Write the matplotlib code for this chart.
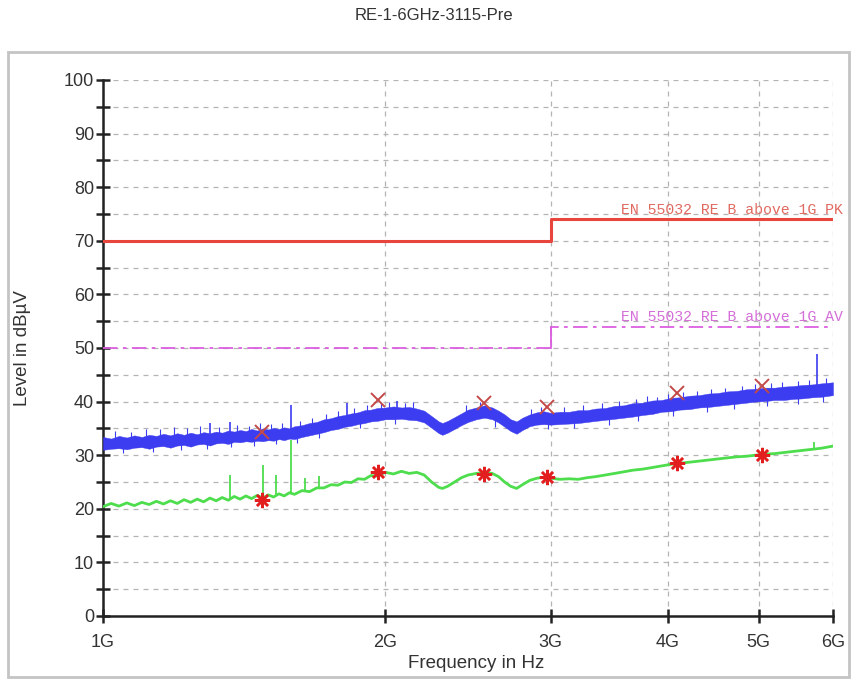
import matplotlib
matplotlib.use("Agg")
import matplotlib.pyplot as plt
import numpy as np
from matplotlib.ticker import FixedLocator, NullFormatter, MultipleLocator
from matplotlib.patches import Rectangle
import matplotlib.transforms as mtransforms

# ---------------- data (GHz / dBuV) ----------------
freq_peak = [1.00, 1.02, 1.04, 1.06, 1.08, 1.10, 1.12, 1.14, 1.16, 1.18, 1.20, 1.22, 1.24, 1.26,
             1.28, 1.30, 1.32, 1.34, 1.36, 1.38, 1.40, 1.42, 1.44, 1.46, 1.48, 1.50, 1.52, 1.54,
             1.56, 1.58, 1.60, 1.63, 1.66, 1.69, 1.72, 1.75, 1.78, 1.81, 1.84, 1.87, 1.90, 1.93,
             1.96, 2.00, 2.04, 2.08, 2.12, 2.16, 2.20, 2.24, 2.28, 2.30, 2.33, 2.37, 2.41, 2.45,
             2.50, 2.55, 2.60, 2.64, 2.68, 2.72, 2.76, 2.80, 2.85, 2.90, 2.95, 3.00, 3.07, 3.14,
             3.21, 3.28, 3.35, 3.43, 3.51, 3.59, 3.67, 3.76, 3.85, 3.94, 4.03, 4.12, 4.22, 4.32,
             4.42, 4.52, 4.63, 4.74, 4.85, 4.96, 5.08, 5.20, 5.32, 5.44, 5.57, 5.70, 5.83, 6.00]
peak_hi = [33.4, 33.1, 33.6, 33.3, 33.7, 33.4, 33.8, 33.6, 34.0, 33.7, 34.1, 33.8, 34.2, 33.9,
           34.3, 34.1, 34.4, 34.2, 34.6, 34.4, 34.7, 34.5, 34.9, 34.6, 35.0, 34.8, 35.1, 34.9,
           35.2, 35.0, 35.4, 35.6, 36.0, 36.2, 36.7, 36.9, 37.3, 37.5, 37.8, 38.0, 38.4, 38.5,
           38.8, 38.9, 39.1, 38.9, 39.0, 38.7, 38.3, 37.3, 36.3, 36.0, 36.4, 37.1, 37.8, 38.5,
           38.9, 39.3, 38.9, 38.3, 37.6, 36.7, 36.3, 37.0, 37.6, 38.0, 38.2, 37.9, 38.1, 38.1,
           38.4, 38.4, 38.7, 38.8, 39.2, 39.3, 39.7, 39.8, 40.2, 40.3, 40.7, 40.8, 41.1, 41.2,
           41.5, 41.6, 41.9, 42.0, 42.3, 42.4, 42.6, 42.6, 42.8, 42.9, 43.1, 43.2, 43.4, 43.6]
peak_lo = [31.0, 31.2, 31.3, 31.1, 31.4, 31.5, 31.2, 31.6, 31.7, 31.4, 31.8, 31.9, 31.6, 32.0,
           32.1, 31.8, 32.2, 32.3, 32.1, 32.5, 32.4, 32.6, 32.5, 32.7, 32.6, 32.8, 32.7, 33.0,
           32.8, 33.1, 33.0, 33.4, 33.7, 34.0, 34.3, 34.7, 34.9, 35.3, 35.5, 35.8, 36.0, 36.3,
           36.4, 36.7, 36.7, 36.8, 36.6, 36.5, 36.1, 35.1, 34.1, 33.8, 34.2, 34.9, 35.6, 36.2,
           36.7, 37.0, 36.7, 36.1, 35.3, 34.5, 34.0, 34.7, 35.4, 35.7, 35.8, 35.7, 35.8, 35.9,
           36.0, 36.2, 36.4, 36.6, 36.8, 37.0, 37.2, 37.5, 37.7, 38.1, 38.2, 38.5, 38.6, 38.9,
           39.0, 39.2, 39.4, 39.6, 39.8, 40.0, 40.1, 40.3, 40.3, 40.5, 40.6, 40.8, 40.9, 41.2]
peak_up_f = [1.03, 1.07, 1.11, 1.15, 1.19, 1.23, 1.27, 1.33, 1.39, 1.43, 1.47, 1.51, 1.55, 1.62,
             1.67, 1.73, 1.78, 1.85, 1.91, 1.98, 2.02, 2.10, 2.14, 2.44, 2.52, 2.86, 2.93, 3.10,
             3.25, 3.40, 3.55, 3.70, 3.80, 3.90, 4.00, 4.15, 4.30, 4.45, 4.60, 4.80, 4.95, 5.15,
             5.30, 5.50, 5.65, 5.90]
peak_up_v = [34.6, 34.4, 34.9, 34.8, 35.2, 35.0, 35.4, 35.3, 35.6, 35.5, 36.0, 35.8, 36.0, 36.4,
             37.0, 37.6, 38.3, 38.8, 39.3, 39.8, 39.9, 39.7, 40.0, 39.4, 39.9, 38.6, 39.0, 38.9,
             39.3, 39.7, 40.1, 40.5, 41.0, 40.9, 41.4, 41.7, 42.0, 42.3, 42.6, 43.0, 43.2, 43.4,
             43.6, 43.9, 44.0, 44.4]
peak_down_f = [1.05, 1.13, 1.21, 1.29, 1.37, 1.45, 1.53, 1.61, 1.70, 1.88, 2.05, 2.62, 2.98,
               3.18, 3.46, 3.72, 4.05, 4.40, 4.70, 5.10, 5.50, 5.85]
peak_down_v = [30.4, 30.6, 31.0, 31.2, 31.5, 31.8, 32.0, 32.2, 33.2, 35.0, 35.8, 35.2, 34.8,
               35.1, 35.7, 36.3, 37.3, 38.0, 38.6, 39.2, 39.6, 40.0]
peak_spike_f = [1.30, 1.365, 1.586, 1.82, 2.06, 5.77]
peak_spike_v = [36.0, 36.2, 39.4, 39.7, 40.2, 48.8]

freq_avg = [1.00, 1.02, 1.04, 1.06, 1.08, 1.10, 1.12, 1.14, 1.16, 1.18, 1.20, 1.22, 1.24, 1.26,
            1.28, 1.30, 1.32, 1.34, 1.36, 1.38, 1.40, 1.42, 1.44, 1.46, 1.48, 1.50, 1.52, 1.54,
            1.56, 1.58, 1.60, 1.63, 1.66, 1.69, 1.72, 1.75, 1.78, 1.81, 1.84, 1.87, 1.90, 1.93,
            1.96, 2.00, 2.04, 2.08, 2.12, 2.16, 2.20, 2.24, 2.28, 2.30, 2.33, 2.37, 2.41, 2.45,
            2.50, 2.55, 2.60, 2.64, 2.68, 2.72, 2.76, 2.80, 2.85, 2.90, 2.95, 3.00, 3.07, 3.14,
            3.21, 3.28, 3.35, 3.43, 3.51, 3.59, 3.67, 3.76, 3.85, 3.94, 4.03, 4.12, 4.22, 4.32,
            4.42, 4.52, 4.63, 4.74, 4.85, 4.96, 5.08, 5.20, 5.32, 5.44, 5.57, 5.70, 5.83, 6.00]
avg_level = [20.4, 21.0, 20.5, 21.1, 20.6, 21.2, 20.8, 21.4, 20.9, 21.5, 21.0, 21.7, 21.2, 21.8,
             21.3, 22.0, 21.5, 22.1, 21.6, 22.3, 21.8, 22.4, 21.9, 22.5, 22.0, 22.6, 22.2, 22.8,
             22.4, 23.0, 22.7, 23.4, 23.2, 23.9, 23.9, 24.5, 24.4, 25.0, 24.9, 25.6, 25.5, 26.2,
             26.1, 26.8, 26.5, 27.0, 26.6, 26.8, 26.3, 25.0, 24.0, 23.8, 24.2, 25.0, 25.8, 26.3,
             26.6, 26.8, 26.6, 26.0, 25.0, 24.2, 23.8, 24.5, 25.3, 25.7, 25.9, 25.7, 25.5, 25.6,
             25.5, 25.8, 26.0, 26.3, 26.6, 26.9, 27.2, 27.4, 27.7, 28.0, 28.3, 28.5, 28.7, 28.9,
             29.1, 29.3, 29.5, 29.7, 29.8, 30.0, 30.2, 30.3, 30.5, 30.7, 30.9, 31.1, 31.3, 31.7]
avg_spike_f = [1.365, 1.48, 1.53, 1.585, 1.64, 1.70, 5.72]
avg_spike_v = [26.3, 28.2, 26.3, 32.8, 25.7, 26.1, 32.4]

marker_f = [1.477, 1.964, 2.55, 2.97, 4.09, 5.04]
marker_pk = [34.3, 40.3, 39.7, 39.0, 41.6, 42.9]
marker_av = [21.6, 26.9, 26.5, 25.9, 28.5, 30.0]

pk_limit_f = [1.0, 3.0, 3.0, 6.0]
pk_limit = [70, 70, 74, 74]
av_limit_f = [1.0, 3.0, 3.0, 6.0]
av_limit = [50, 50, 54, 54]
pk_label = "EN 55032 RE B above 1G PK"
av_label = "EN 55032 RE B above 1G AV"

xtick_vals = [1, 2, 3, 4, 5, 6]
xtick_labels = ["1G", "2G", "3G", "4G", "5G", "6G"]

# ---------------- figure ----------------
plt.rcParams['font.family'] = ['Liberation Sans', 'DejaVu Sans']
W, H = 853, 679
fig = plt.figure(figsize=(W / 100, H / 100), dpi=100)
fig.patch.set_facecolor('white')

fig.patches.append(Rectangle((8 / W, 1 - 677 / H), (849 - 8) / W, (677 - 52) / H,
                             transform=fig.transFigure, fill=False,
                             edgecolor='#c4c4c4', lw=2, zorder=0))

ax = fig.add_axes([103 / W, 1 - 616 / H, (833 - 103) / W, (616 - 80) / H])
ax.set_xscale('log')
ax.set_xlim(1, 6)
ax.set_ylim(0, 100)

ax.spines['top'].set_visible(False)
ax.spines['right'].set_visible(False)
for s in ('left', 'bottom'):
    ax.spines[s].set_linewidth(1.8)
    ax.spines[s].set_color('#222222')

ax.xaxis.set_major_locator(FixedLocator(xtick_vals))
ax.set_xticklabels(xtick_labels)
ax.xaxis.set_minor_locator(FixedLocator([]))
ax.xaxis.set_minor_formatter(NullFormatter())
ax.yaxis.set_major_locator(MultipleLocator(10))
ax.yaxis.set_minor_locator(MultipleLocator(5))

ax.tick_params(axis='both', which='both', direction='inout', length=10, width=1.8,
               color='#222222', labelsize=13, labelcolor='#333333')
ax.tick_params(axis='x', pad=8)
ax.tick_params(axis='y', pad=1.5)

ax.grid(True, which='major', axis='x', color='#b4b4b4', ls=(0, (4, 4)), lw=0.9)
ax.grid(True, which='both', axis='y', color='#b4b4b4', ls=(0, (4, 4)), lw=0.9)
ax.set_axisbelow(True)

# limit lines
ax.plot(pk_limit_f, pk_limit, color='#e8463c', lw=2.2, zorder=3)
ax.plot(av_limit_f, av_limit, color='#dc5ee0', lw=1.3, ls=(0, (8, 3, 2, 3)), zorder=3)
ax.plot([av_limit_f[1], av_limit_f[2]], [av_limit[1], av_limit[2]], color='#dc5ee0', lw=1.3, zorder=3)

tr = mtransforms.blended_transform_factory(ax.transAxes, ax.transData)
ax.text(1.014, 74.4, pk_label, transform=tr, ha='right', va='bottom',
        family='Liberation Mono', fontsize=10.7, color='#e06a60', clip_on=False)
ax.text(1.014, 54.4, av_label, transform=tr, ha='right', va='bottom',
        family='Liberation Mono', fontsize=10.7, color='#d46ed8', clip_on=False)

# peak trace (blue)
blue = '#3c3cf0'
ax.fill_between(freq_peak, peak_lo, peak_hi, color=blue, lw=0.3, edgecolor=blue, zorder=4)
up_base = np.interp(peak_up_f, freq_peak, peak_hi) - 0.3
ax.vlines(peak_up_f, up_base, peak_up_v, color=blue, lw=0.8, zorder=4)
down_base = np.interp(peak_down_f, freq_peak, peak_lo) + 0.3
ax.vlines(peak_down_f, peak_down_v, down_base, color=blue, lw=0.8, zorder=4)
spike_base = np.interp(peak_spike_f, freq_peak, peak_hi) - 0.3
ax.vlines(peak_spike_f, spike_base, peak_spike_v, color=blue, lw=1.2, zorder=4)

# average trace (green)
green = '#4ddd4d'
ax.plot(freq_avg, avg_level, color=green, lw=2.0, zorder=5)
avg_base = np.interp(avg_spike_f, freq_avg, avg_level)
ax.vlines(avg_spike_f, avg_base, avg_spike_v, color=green, lw=1.3, zorder=5)

# markers
ax.plot(marker_f, marker_pk, ls='none', marker='x', ms=10, mew=1.4, color='#c44a4a', zorder=6)
ax.plot(marker_f, marker_av, ls='none', marker=(8, 2, 0), ms=11, mew=1.8, color='#e21e1e', zorder=6)
ax.plot(marker_f, marker_av, ls='none', marker='o', ms=5, color='#e21e1e', zorder=6)

ax.set_xlabel('Frequency in Hz', fontsize=13.5, color='#333333')
ax.xaxis.set_label_coords((476 - 103) / 730, (616 - 655) / 536)
ax.set_ylabel('Level in dB\u00b5V', fontsize=13.5, color='#333333')
ax.yaxis.set_label_coords((40 - 103) / 730 - 0.012, 0.5)

fig.text(434 / W, 1 - 16 / H, 'RE-1-6GHz-3115-Pre', ha='center', va='center',
         fontsize=12, color='#333333')

fig.savefig('out.png', dpi=100)
